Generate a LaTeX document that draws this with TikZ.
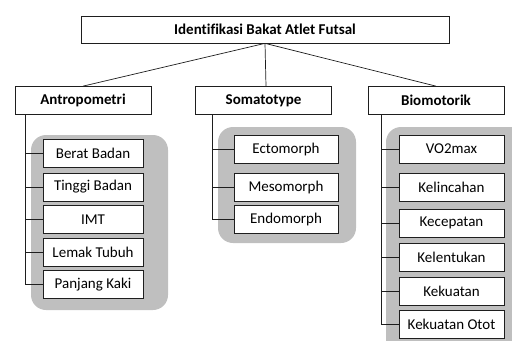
\documentclass[tikz,border=0pt]{standalone}
\usepackage{fontspec}
\setmainfont[Ligatures=NoCommon]{Carlito}
\usepackage{tikz}
\usetikzlibrary{positioning, calc}
\definecolor{panelgray}{RGB}{191, 191, 191}
\definecolor{linegray}{RGB}{30, 30, 30}

\begin{document}
\begin{tikzpicture}[
    x=0.03cm, y=-0.03cm,
    rootbox/.style={rectangle, draw=linegray, fill=white, line width=0.6pt, minimum width=11.04cm, minimum height=0.81cm, font=\fontsize{12.8}{14}\selectfont\bfseries},
    groupbox/.style={rectangle, draw=linegray, fill=white, line width=0.6pt, minimum width=4.08cm, minimum height=0.84cm, font=\fontsize{12.8}{14}\selectfont\bfseries},
    itembox/.style={rectangle, draw=linegray, fill=white, line width=0.6pt, minimum height=0.84cm, font=\fontsize{12.8}{14}\selectfont},
    panel/.style={fill=panelgray, rounded corners=0.45cm},
    link/.style={draw=linegray, line width=0.6pt},
]
    \useasboundingbox (0,0) rectangle (512,340);
    \clip (0,0) rectangle (512,340);

    % grey panels behind the items
    \fill[panel] (31,135) rectangle (168,310);
    \fill[panel] (218,127) rectangle (356,243);
    \fill[panel] (386,127) rectangle (530,360);

    \node[rootbox] (root) at (265,29.5) {Identifikasi Bakat Atlet Futsal};

    \node[groupbox] (antro) at (83,100.5) {Antropometri};
    \node[groupbox] (soma) at (263.5,100.5) {Somatotype};
    \node[groupbox] (bio) at (436,100.5) {Biomotorik};

    \node[itembox, minimum width=3cm] (berat) at (93,153) {Berat Badan};
    \node[itembox, minimum width=3cm] (tinggi) at (93,187) {Tinggi Badan};
    \node[itembox, minimum width=3cm] (imt) at (93,219.5) {IMT};
    \node[itembox, minimum width=3cm] (lemak) at (93,252) {Lemak Tubuh};
    \node[itembox, minimum width=3cm] (kaki) at (93,284.5) {Panjang Kaki};

    \node[itembox, minimum width=3.12cm] (ecto) at (286,149) {Ectomorph};
    \node[itembox, minimum width=3.12cm] (meso) at (286,187) {Mesomorph};
    \node[itembox, minimum width=3.12cm] (endo) at (286,219.5) {Endomorph};

    \node[itembox, minimum width=3.15cm] (vo) at (451.5,149) {VO2max};
    \node[itembox, minimum width=3.15cm] (lincah) at (451.5,187.5) {Kelincahan};
    \node[itembox, minimum width=3.15cm] (cepat) at (451.5,223) {Kecepatan};
    \node[itembox, minimum width=3.15cm] (lentuk) at (451.5,257.5) {Kelentukan};
    \node[itembox, minimum width=3.15cm] (kuat) at (451.5,291) {Kekuatan};
    \node[itembox, minimum width=3.15cm] (otot) at (451.5,324) {Kekuatan Otot};

    \draw[link] (root.south) -- (antro.north);
    \draw[link] (root.south) -- ($(soma.north)+(2.5,0)$);
    \draw[link] (root.south) -- (bio.north);

    % spines
    \coordinate (aS) at (25,114.5);
    \coordinate (sS) at (212,114.5);
    \coordinate (bS) at (381,114.5);

    \draw[link] (aS) |- (kaki.west);
    \foreach \n in {berat, tinggi, imt, lemak}
        \draw[link] (aS |- \n.west) -- (\n.west);

    \draw[link] (sS) |- (endo.west);
    \foreach \n in {ecto, meso}
        \draw[link] (sS |- \n.west) -- (\n.west);

    \draw[link] (bS) |- (otot.west);
    \foreach \n in {vo, lincah, cepat, lentuk, kuat}
        \draw[link] (bS |- \n.west) -- (\n.west);
\end{tikzpicture}
\end{document}
